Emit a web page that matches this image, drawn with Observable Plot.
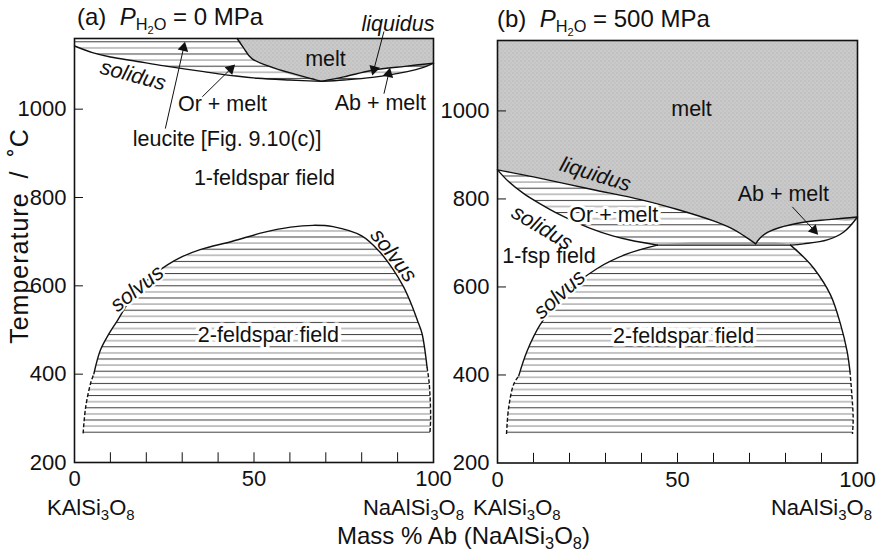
<!DOCTYPE html>
<html><head><meta charset="utf-8">
<script src="https://cdn.jsdelivr.net/npm/d3@7"></script>
<script src="https://cdn.jsdelivr.net/npm/@observablehq/plot@0.6"></script>
<style>
body{margin:0;background:#fff;font-family:"Liberation Sans",Arial,Helvetica,sans-serif;}
#wrap{position:relative;width:877px;height:560px;overflow:hidden;background:#fff;}
.abs{position:absolute;white-space:nowrap;color:#111;line-height:1;}
sub{font-size:0.68em;vertical-align:-0.32em;line-height:0;}
#pa,#pb{position:absolute;top:0;}
#pa{left:0}#pb{left:440px}
svg{overflow:visible}
</style></head><body>
<svg width="0" height="0" style="position:absolute">
<defs>
<pattern id="hatch" patternUnits="userSpaceOnUse" x="0" y="4.2" width="20" height="12.2">
<line x1="0" x2="20" y1="0.5" y2="0.5" stroke="#3a3a3a" stroke-width="1"/>
<line x1="0" x2="20" y1="6.6" y2="6.6" stroke="#8a8a8a" stroke-width="1"/>
</pattern>
<pattern id="stipple" patternUnits="userSpaceOnUse" x="0" y="0" width="4" height="4">
<rect width="4" height="4" fill="#c9c9c9"/>
<rect x="0" y="0" width="1" height="1" fill="#aaaaaa"/>
<rect x="2" y="2" width="1" height="1" fill="#b4b4b4"/>
</pattern>
</defs></svg>
<div id="wrap">
<div id="pa"></div><div id="pb"></div>
<div class="abs" style="left:77px;top:5px;font-size:24px">(a)&nbsp;&nbsp;<i>P</i><sub>H<sub>2</sub>O</sub> = 0 MPa</div>
<div class="abs" style="left:497px;top:7px;font-size:24px">(b)&nbsp;&nbsp;<i>P</i><sub>H<sub>2</sub>O</sub> = 500 MPa</div>
<div class="abs" style="left:47px;top:497px;font-size:22px">KAlSi<sub>3</sub>O<sub>8</sub></div>
<div class="abs" style="right:413px;top:497px;font-size:22px">NaAlSi<sub>3</sub>O<sub>8</sub></div>
<div class="abs" style="left:473px;top:497px;font-size:22px">KAlSi<sub>3</sub>O<sub>8</sub></div>
<div class="abs" style="right:5px;top:497px;font-size:22px">NaAlSi<sub>3</sub>O<sub>8</sub></div>
<div class="abs" style="left:337px;top:524px;font-size:24px">Mass % Ab (NaAlSi<sub>3</sub>O<sub>8</sub>)</div>
<div class="abs" style="left:19px;top:236px;font-size:25px;letter-spacing:1px;word-spacing:6px;transform:translate(-50%,-50%) rotate(-90deg);">Temperature / ˚C</div>
</div>
<script>
// ---------- data: panel (a) P = 0 MPa ----------
const aLiquidusOr = [[45.3,1160],[47,1140],[49.5,1114],[68.8,1063]];
const aLiquidusAb = [[68.8,1063],[75,1073],[83,1088],[92,1097],[100,1104]];
const aSolidusOr  = [[0,1143],[5,1128],[10,1118],[17.5,1108],[25,1098],[36,1085],[45,1075],[51,1070],[60,1066],[68.8,1063]];
const aSolidusAb  = [[68.8,1063],[75,1066],[83,1072],[92.7,1085],[97,1094],[100,1104]];
const aSolvus     = [[5.4,401],[7.2,454],[9.5,490],[12,522],[15,562],[18,594],[22,625],[26,648],[30,666],[35,682],[44,701],[52.7,721],[60.2,733],[66.5,737],[72,734],[80,713],[85,677],[88.5,640],[91.7,597],[94,555],[95.5,522],[96.8,492],[98.2,416]];
const aSolvusLowL = [[2.4,266],[3.1,325],[4.5,380],[5.4,401]];
const aSolvusLowR = [[98.2,416],[98.8,380],[99.2,303],[99,266]];

// ---------- data: panel (b) P = 500 MPa ----------
const bLiquidusOr = [[0,866],[10,850],[26,822],[40,798],[50,776],[60,750],[65,733],[68.5,716],[71.7,698]];
const bLiquidusAb = [[71.7,698],[73,712],[75,724],[78,734],[85,747],[92,753],[100,759]];
const bSolidusOr  = [[0,866],[3,840],[7.3,812],[12,788],[16.6,767],[25.8,733],[32,716],[37,706],[44.4,695]];
const bSolidusAb  = [[81.4,695],[85,698],[91.6,707],[96.2,725],[100,759]];
const bEutectic   = [[44.4,695],[81.4,695]];
const bSolvusL    = [[5.9,398],[8.2,454],[11.9,515],[18.4,582],[27.7,642],[36,675],[44.4,695]];
const bSolvusR    = [[81.4,695],[85,668],[87.9,642],[92.5,582],[95.3,515],[97.1,454],[97.9,409]];
const bSolvusLowL = [[2.5,266],[3.1,326],[4.5,379],[5.9,398]];
const bSolvusLowR = [[97.9,409],[98.8,303],[98.6,266]];

// ---------- axes ----------
const xTickLabels = [0, 50, 100];
const xMinorTicks = [10,20,30,40,50,60,70,80,90];
const yTickLabels = [200, 400, 600, 800, 1000];
const yInnerTicks = [400, 600, 800, 1000];
const TMIN = 200, TMAX = 1160;

const FONT = '"Liberation Sans", Arial, Helvetica, sans-serif';
const MELT = "url(#stipple)";
const HATCH = "url(#hatch)";
const FS = 21.5;
const px = d => d[0], py = d => d[1];

function curve(data, opts = {}) {
  return Plot.line(data, {x: px, y: py, stroke: "#111", strokeWidth: 1.4, curve: "catmull-rom", ...opts});
}
function region(data, fill) {
  return Plot.line(data, {x: px, y: py, fill, stroke: "none", curve: "catmull-rom", clip: true});
}
function lab(text, x, y, opts = {}) {
  return Plot.text([text], {x: () => x, y: () => y, text: d => d, fill: "#111", fontSize: FS, ...opts});
}

function makePanel(cfg) {
  const {width, height, mL, mR, mT, mB, marks} = cfg;
  const kx = (width - mL - mR) / 100, ky = (height - mT - mB) / (TMAX - TMIN);
  const arrow = (x1, y1, x2, y2) => {
    const rot = Math.atan2((x2 - x1) * kx, (y2 - y1) * ky) * 180 / Math.PI;
    return [
      Plot.link([0], {x1: () => x1, y1: () => y1, x2: () => x2, y2: () => y2, stroke: "#111", strokeWidth: 1}),
      Plot.dot([0], {x: () => x2, y: () => y2, symbol: "triangle", r: 4, fill: "#111", stroke: "none", rotate: rot})
    ];
  };
  return Plot.plot({
    width, height, marginLeft: mL, marginRight: mR, marginTop: mT, marginBottom: mB,
    x: {domain: [0, 100]},
    y: {domain: [TMIN, TMAX]},
    style: {fontFamily: FONT, fontSize: "22px", background: "transparent", color: "#111", overflow: "visible"},
    marks: [
      ...marks(arrow),
      Plot.ruleY(yInnerTicks, {x1: 0, x2: 2.5, stroke: "#111", strokeWidth: 1}),
      Plot.ruleX(xMinorTicks, {y1: TMIN, y2: TMIN + 22, stroke: "#111", strokeWidth: 1}),
      Plot.axisX({ticks: xTickLabels, tickSize: 0, tickPadding: 8, fontSize: 22, label: null, tickFormat: d => String(d)}),
      Plot.axisY({ticks: yTickLabels, tickSize: 0, tickPadding: 8, fontSize: 22, label: null, tickFormat: d => String(d)}),
      Plot.frame({stroke: "#111", strokeWidth: 1.6})
    ]
  });
}

// ----- panel (a) -----
const aMelt = [[45.3, TMAX], ...aLiquidusOr.slice(1), ...aLiquidusAb.slice(1), [100, TMAX]];
const aOrHatch = [[0, TMAX], ...aLiquidusOr, ...aSolidusOr.slice().reverse().slice(1)];
const aAbHatch = [...aLiquidusAb, ...aSolidusAb.slice().reverse().slice(1)];
const aSolvHatch = [...aSolvusLowL, ...aSolvus.slice(1), ...aSolvusLowR.slice(1)];

const pa = makePanel({
  width: 440, height: 500, mL: 74, mR: 7, mT: 38, mB: 38,
  marks: (arrow) => [
    region(aMelt, MELT),
    region(aOrHatch, HATCH),
    region(aAbHatch, HATCH),
    region(aSolvHatch, HATCH),
    curve(aLiquidusOr), curve(aLiquidusAb), curve(aSolidusOr), curve(aSolidusAb),
    curve(aSolvus),
    curve(aSolvusLowL, {strokeDasharray: "4,2.1", strokeLinecap: "butt"}),
    curve(aSolvusLowR, {strokeDasharray: "4,2.1", strokeLinecap: "butt"}),
    lab("melt", 69.9, 1113),
    lab("liquidus", 90.1, 1193, {fontStyle: "italic"}),
    lab("solidus", 16.3, 1077, {fontStyle: "italic", rotate: 15}),
    lab("Or + melt", 41.2, 1011),
    lab("Ab + melt", 85.2, 1013),
    lab("leucite [Fig. 9.10(c)]", 42.5, 932),
    lab("1-feldspar field", 52.9, 844),
    lab("2-feldspar field", 54, 489, {stroke: "white", strokeWidth: 7}),
    lab("solvus", 17.4, 594, {fontStyle: "italic", rotate: -38, stroke: "white", strokeWidth: 4}),
    lab("solvus", 88.9, 669, {fontStyle: "italic", rotate: 52}),
    ...arrow(86.2, 1176, 83.4, 1090),
    ...arrow(25.3, 956, 30.4, 1139),
    ...arrow(35.6, 1028, 43.5, 1091),
    ...arrow(86.2, 1035, 87.5, 1080)
  ]
});
document.getElementById("pa").appendChild(pa);

// ----- panel (b) -----
const bMelt = [[0, TMAX], [100, TMAX], ...bLiquidusAb.slice().reverse(), ...bLiquidusOr.slice().reverse().slice(1)];
const bOrHatch = [...bLiquidusOr, [44.4, 695], ...bSolidusOr.slice().reverse().slice(1)];
const bAbHatch = [...bLiquidusAb, ...bSolidusAb.slice().reverse().slice(1)];
const bSolvHatch = [...bSolvusLowL, ...bSolvusL.slice(1), ...bSolvusR, ...bSolvusLowR.slice(1)];

const pb = makePanel({
  width: 437, height: 500, mL: 57, mR: 20, mT: 40, mB: 37.5,
  marks: (arrow) => [
    region(bMelt, MELT),
    region(bOrHatch, HATCH),
    region(bAbHatch, HATCH),
    region(bSolvHatch, HATCH),
    curve(bLiquidusOr), curve(bLiquidusAb), curve(bSolidusOr), curve(bSolidusAb),
    curve(bEutectic),
    curve(bSolvusL), curve(bSolvusR),
    curve(bSolvusLowL, {strokeDasharray: "4,2.1", strokeLinecap: "butt"}),
    curve(bSolvusLowR, {strokeDasharray: "4,2.1", strokeLinecap: "butt"}),
    lab("melt", 53.9, 1003),
    lab("liquidus", 27.2, 856, {fontStyle: "italic", rotate: 17}),
    lab("solidus", 12.4, 735, {fontStyle: "italic", rotate: 31}),
    lab("Or + melt", 32.3, 764, {stroke: "white", strokeWidth: 6}),
    lab("Ab + melt", 79.4, 812),
    lab("1-fsp field", 14.3, 669),
    lab("solvus", 17.2, 583, {fontStyle: "italic", rotate: -42, stroke: "white", strokeWidth: 4}),
    lab("2-feldspar field", 51.7, 489, {stroke: "white", strokeWidth: 7}),
    ...arrow(81.9, 782, 87.9, 729)
  ]
});
document.getElementById("pb").appendChild(pb);
</script>
</body></html>
